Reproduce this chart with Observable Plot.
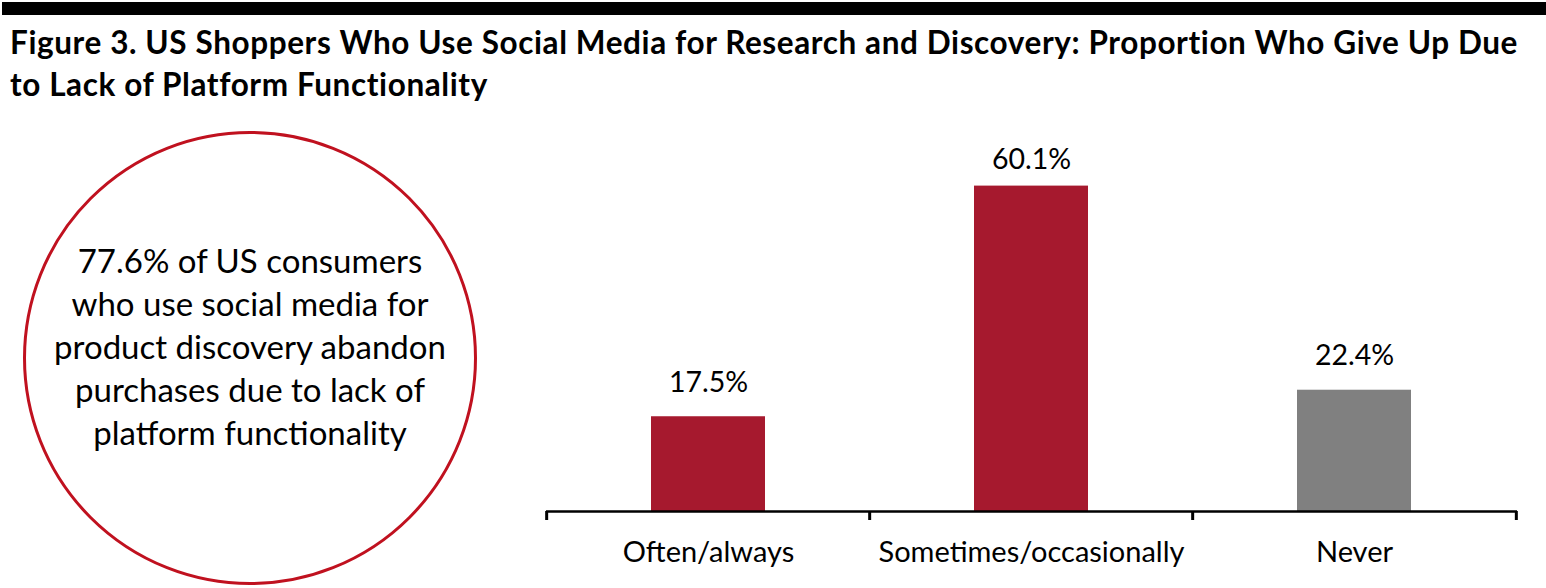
<!DOCTYPE html>
<html>
<head>
<meta charset="utf-8">
<script src="https://cdn.jsdelivr.net/npm/d3@7"></script>
<script src="https://cdn.jsdelivr.net/npm/@observablehq/plot@0.6"></script>
<style>
  html, body { margin: 0; padding: 0; background: #fff; }
  body { width: 1546px; height: 588px; position: relative; overflow: hidden; font-family: Lato, "Open Sans", sans-serif; }
  #topbar { position: absolute; left: 2px; right: 0; top: 2px; height: 13px; background: #000; }
  #title { position: absolute; left: 10px; top: 21px; width: 1536px; font-weight: bold; font-size: 31.5px; letter-spacing: 0.6px; line-height: 42px; color: #000; white-space: nowrap; }
  #circle { position: absolute; left: 23px; top: 131px; width: 448px; height: 448px; border: 3px solid #c0111f; border-radius: 50%;
            display: flex; align-items: center; justify-content: center; text-align: center; font-size: 33px; line-height: 43px; color: #000; }
  #circle div { margin-top: -24px; }
  #chart { position: absolute; left: 0; top: 110px; }
</style>
</head>
<body>
<div id="topbar"></div>
<div id="title">Figure 3. US Shoppers Who Use Social Media for Research and Discovery: Proportion Who Give Up Due<br>to Lack of Platform Functionality</div>
<div id="circle"><div>77.6% of US consumers<br>who use social media for<br>product discovery abandon<br>purchases due to lack of<br>platform functionality</div></div>
<div id="chart"></div>
<script>
const categories = ["Often/always", "Sometimes/occasionally", "Never"];
const values = [17.5, 60.1, 22.4];
const barColors = ["#a6192e", "#a6192e", "#808080"];

const data = categories.map((c, i) => ({category: c, value: values[i], color: barColors[i]}));
const maxValue = d3.max(values);

const W = 1546, H = 478;
const mL = 546, mR = 29;
const step = (W - mL - mR) / categories.length;
const fmt = d => d.value.toFixed(1) + "%";

const chart = Plot.plot({
  width: W,
  height: H,
  marginLeft: mL,
  marginRight: mR,
  marginTop: 22,
  marginBottom: 77,
  style: {fontFamily: "Lato, 'Open Sans', sans-serif", background: "transparent"},
  x: {domain: categories, paddingInner: 0.647, paddingOuter: 0.3235, axis: null, label: null},
  y: {domain: [0, 70], axis: null},
  marks: [
    Plot.barY(data, {x: "category", y: "value", fill: "color"}),
    Plot.text(data, {filter: d => d.value !== maxValue, x: "category", y: "value", text: fmt, dy: -34, lineAnchor: "middle", fontSize: 28.5, fill: "#000"}),
    Plot.text(data, {filter: d => d.value === maxValue, x: "category", y: "value", text: fmt, dy: -26, lineAnchor: "middle", fontSize: 28.5, fill: "#000"}),
    Plot.ruleY([0], {stroke: "#000", strokeWidth: 2.5}),
    Plot.axisX({tickSize: 9, tickFormat: null, label: null, strokeWidth: 3, stroke: "#000", dx: -step / 2}),
    Plot.axisX([categories[categories.length - 1]], {tickSize: 9, tickFormat: null, label: null, strokeWidth: 3, stroke: "#000", dx: step / 2}),
    Plot.axisX({tickSize: 0, tickPadding: 30, fontSize: 29, fill: "#000", label: null})
  ]
});
document.getElementById("chart").appendChild(chart);
</script>
</body>
</html>
